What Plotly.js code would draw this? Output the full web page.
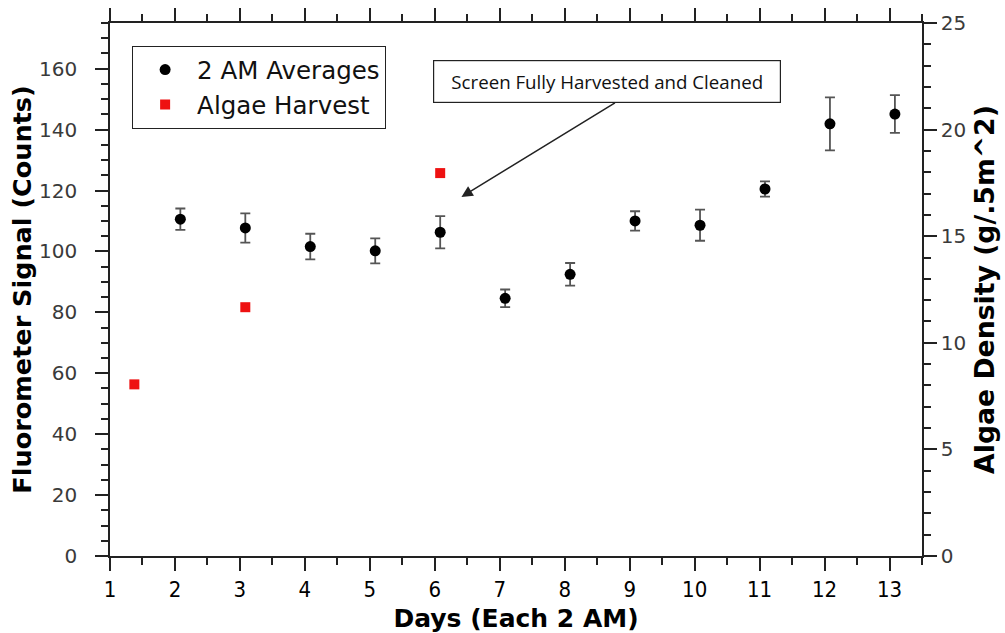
<!DOCTYPE html>
<html>
<head>
<meta charset="utf-8">
<script src="https://cdn.plot.ly/plotly-3.0.1.min.js"></script>
<style>html,body{margin:0;padding:0;background:#fff;}#chart{width:1005px;height:633px;}</style>
</head>
<body>
<div id="chart"></div>
<script>
// Data
const avgDays   = [2.083, 3.083, 4.083, 5.083, 6.083, 7.083, 8.083, 9.083, 10.083, 11.083, 12.083, 13.083];
const avgSignal = [110.6, 107.7, 101.6, 100.2, 106.3, 84.6, 92.5, 110.0, 108.6, 120.5, 141.9, 145.1];
const avgError  = [3.5, 4.8, 4.2, 4.1, 5.3, 2.9, 3.7, 3.2, 5.1, 2.5, 8.7, 6.2];
const harvestDays    = [1.375, 3.083, 6.083];
const harvestDensity = [8.05, 11.67, 17.96];
const xTickVals = [1,2,3,4,5,6,7,8,9,10,11,12,13];
const noteText = 'Screen Fully Harvested and Cleaned';

const axisColor = '#222';
const tickFont = {family: 'DejaVu Sans', size: 20, color: '#3a3a3a'};

const traces = [
  {
    x: avgDays, y: avgSignal, type: 'scatter', mode: 'markers', name: '2 AM Averages',
    marker: {color: '#000', size: 11, symbol: 'circle'},
    error_y: {type: 'data', array: avgError, visible: true, color: '#555', thickness: 1.8, width: 5},
    xaxis: 'x', yaxis: 'y'
  },
  {
    x: harvestDays, y: harvestDensity, type: 'scatter', mode: 'markers', name: 'Algae Harvest',
    marker: {color: '#ee1111', size: 10, symbol: 'square'},
    xaxis: 'x', yaxis: 'y2'
  }
];

const layout = {
  width: 1005, height: 633,
  margin: {l: 110, r: 83, t: 23, b: 77, pad: 0},
  paper_bgcolor: '#fff', plot_bgcolor: '#fff',
  showlegend: true,
  legend: {
    x: 0.027, y: 0.957, xanchor: 'left', yanchor: 'top',
    bgcolor: '#fff', bordercolor: '#222', borderwidth: 1.2,
    font: {family: 'DejaVu Sans', size: 24.5, color: '#111'},
    itemwidth: 54
  },
  xaxis: {
    range: [1, 13.5], tickvals: xTickVals, ticktext: xTickVals.map(String),
    showgrid: false, zeroline: false,
    showline: true, linecolor: axisColor, linewidth: 1.5, mirror: 'ticks',
    ticks: 'outside', ticklen: 13, tickwidth: 1.5, tickcolor: axisColor,
    minor: {dtick: 0.5, tick0: 1, ticks: 'outside', ticklen: 7, tickwidth: 1.5, tickcolor: axisColor, showgrid: false},
    tickfont: {family: 'DejaVu Sans Condensed', size: 22, color: '#000'},
    title: {text: 'Days (Each 2 AM)', font: {family: 'DejaVu Sans', size: 25, color: '#000', weight: 'bold'}, standoff: 10}
  },
  yaxis: {
    range: [0, 175], dtick: 20, tick0: 0,
    showgrid: false, zeroline: false,
    showline: true, linecolor: axisColor, linewidth: 1.5,
    ticks: 'outside', ticklen: 13, tickwidth: 1.5, tickcolor: axisColor,
    minor: {dtick: 5, ticks: 'outside', ticklen: 7, tickwidth: 1.5, tickcolor: axisColor, showgrid: false},
    tickfont: tickFont, ticklabelstandoff: 14,
    title: {text: 'Fluorometer Signal (Counts)', font: {family: 'DejaVu Sans', size: 25.5, color: '#000', weight: 'bold'}, standoff: 0}
  },
  yaxis2: {
    range: [0, 25], dtick: 5, tick0: 0, overlaying: 'y', side: 'right',
    showgrid: false, zeroline: false,
    showline: true, linecolor: axisColor, linewidth: 1.5,
    ticks: 'outside', ticklen: 13, tickwidth: 1.5, tickcolor: axisColor,
    minor: {dtick: 1, ticks: 'outside', ticklen: 7, tickwidth: 1.5, tickcolor: axisColor, showgrid: false},
    tickfont: tickFont,
    title: {text: 'Algae Density (g/.5m^2)', font: {family: 'DejaVu Sans', size: 26.7, color: '#000', weight: 'bold'}, standoff: 10}
  },
  annotations: [
    {
      xref: 'x', yref: 'y', x: 8.65, y: 155.7, xanchor: 'center', yanchor: 'middle',
      text: noteText, showarrow: false,
      font: {family: 'Open Sans', size: 18.7, color: '#111'},
      bgcolor: '#fff', bordercolor: '#222', borderwidth: 1.2, borderpad: 2,
      width: 342, height: 37
    },
    {
      xref: 'x', yref: 'y', x: 6.41, y: 117.9, text: '', showarrow: true,
      axref: 'pixel', ayref: 'pixel', ax: 155, ay: -95,
      arrowhead: 2, arrowsize: 1.5, arrowwidth: 1.5, arrowcolor: '#222'
    }
  ]
};

Plotly.newPlot('chart', traces, layout, {displayModeBar: false, responsive: false});
</script>
</body>
</html>
